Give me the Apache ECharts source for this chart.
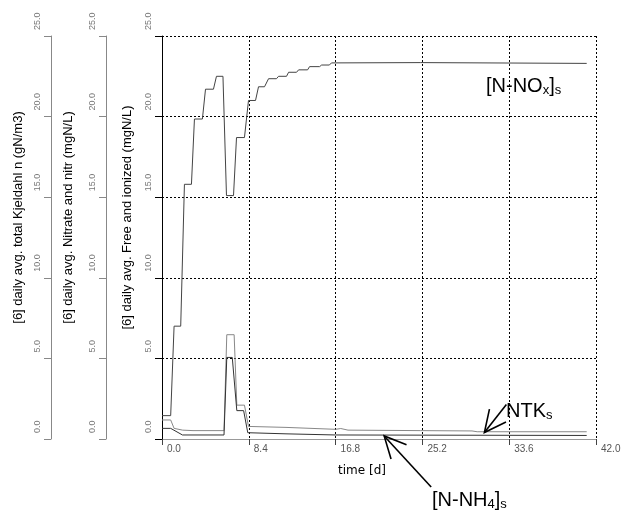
<!DOCTYPE html>
<html>
<head>
<meta charset="utf-8">
<script src="https://cdn.jsdelivr.net/npm/echarts@6/dist/echarts.min.js"></script>
<style>
html,body{margin:0;padding:0;background:#fff;}
#chart{width:626px;height:511px;}
</style>
</head>
<body>
<div id="chart"></div>
<script>
// ---- data (time in days, values) ----
const noxTime = [0.0, 0.84, 1.17, 1.81, 2.17, 2.85, 3.14, 3.91, 4.21, 4.98, 5.27, 5.9, 6.24, 6.92, 7.21, 7.98, 8.37, 9.05, 9.34, 9.92, 10.31, 11.08, 11.28, 12.05, 12.25, 13.02, 13.22, 14.09, 14.28, 15.25, 15.45, 16.2, 16.4, 25.0, 41.1];
const noxValues = [1.45, 1.45, 7.0, 7.0, 15.8, 15.8, 19.85, 19.85, 21.7, 21.7, 22.5, 22.5, 15.1, 15.1, 18.7, 18.7, 21.0, 21.0, 21.85, 21.85, 22.35, 22.35, 22.5, 22.5, 22.75, 22.75, 22.9, 22.9, 23.1, 23.1, 23.2, 23.2, 23.33, 23.35, 23.3];

const ntkTime = [0.0, 0.84, 1.17, 2.0, 3.0, 6.0, 6.27, 6.98, 7.24, 7.98, 8.37, 12.0, 16.8, 17.3, 18.0, 25.0, 30.0, 30.5, 41.1];
const ntkValues = [1.18, 1.18, 0.66, 0.55, 0.52, 0.52, 6.47, 6.47, 2.1, 2.1, 0.78, 0.72, 0.6, 0.65, 0.55, 0.52, 0.5, 0.45, 0.45];

const nh4Time = [0.0, 0.84, 1.98, 6.0, 6.27, 6.8, 7.24, 7.9, 8.3, 12.0, 16.8, 41.1];
const nh4Values = [0.66, 0.66, 0.25, 0.25, 5.06, 5.06, 1.76, 1.76, 0.39, 0.32, 0.25, 0.22];

const xTicks = {min: 0, max: 42, interval: 8.4};
const yTicks = {min: 0, max: 25, interval: 5};

const yNames = [
  '[6] daily avg. Free and ionized (mgN/L)',
  '[6] daily avg. Nitrate and nitr (mgN/L)',
  '[6] daily avg. total Kjeldahl n (gN/m3)'
];
const xName = 'time [d]';

// annotation anchors (data coords of arrow tips)
const ntkArrowTip = [31.2, 0.40];
const nh4ArrowTip = [21.5, 0.19];

function pairs(t, v) { return t.map((x, i) => [x, v[i]]); }

const chart = echarts.init(document.getElementById('chart'), null, {renderer: 'canvas'});

function yAx(offset, name, lineColor, gap, grid) {
  return {
    type: 'value', position: 'left', offset: offset,
    min: yTicks.min, max: yTicks.max, interval: yTicks.interval,
    name: name, nameLocation: 'middle', nameRotate: 90, nameGap: gap,
    nameTextStyle: {fontFamily: 'Liberation Sans', fontSize: 13, color: '#000', padding: [0, 0, 0, 40]},
    axisLine: {show: true, onZero: false, lineStyle: {color: lineColor, width: 1}},
    axisTick: {show: true, length: 7, lineStyle: {color: lineColor}},
    axisLabel: {rotate: 90, align: 'left', verticalAlign: 'bottom', margin: 9, padding: [0, 0, 0, 6],
      fontSize: 9, color: '#777', fontFamily: 'Liberation Sans', formatter: v => v.toFixed(1)},
    splitLine: grid ? {show: true, showMinLine: false, lineStyle: {color: '#000', type: [2, 2], width: 1}} : {show: false}
  };
}

const option = {
  animation: false,
  backgroundColor: '#fff',
  grid: {left: 162, right: 30, top: 36, bottom: 72, containLabel: false},
  xAxis: {
    type: 'value', min: xTicks.min, max: xTicks.max, interval: xTicks.interval,
    name: xName, nameLocation: 'middle', nameGap: 26,
    nameTextStyle: {fontFamily: 'DejaVu Sans', fontSize: 12, color: '#000', padding: [0, 34, 0, 0]},
    axisLine: {show: true, onZero: false, lineStyle: {color: '#999', width: 1}},
    axisTick: {show: true, length: 6, lineStyle: {color: '#444'}},
    axisLabel: {align: 'left', margin: 5, padding: [0, 0, 0, 5], fontSize: 10, color: '#555',
      fontFamily: 'Liberation Sans', formatter: v => v.toFixed(1)},
    splitLine: {show: true, showMinLine: false, lineStyle: {color: '#000', type: [2, 2], width: 1}}
  },
  yAxis: [
    yAx(0, yNames[0], '#000', 28, true),
    yAx(56, yNames[1], '#888', 31, false),
    yAx(111, yNames[2], '#888', 26, false)
  ],
  series: [
    {name: 'NOx', type: 'line', data: pairs(noxTime, noxValues), showSymbol: false,
      lineStyle: {color: '#444', width: 1}, z: 3},
    {name: 'NTK', type: 'line', data: pairs(ntkTime, ntkValues), showSymbol: false,
      lineStyle: {color: '#888', width: 1}, z: 3},
    {name: 'NH4', type: 'line', data: pairs(nh4Time, nh4Values), showSymbol: false,
      lineStyle: {color: '#333', width: 1}, z: 4}
  ]
};
chart.setOption(option);

// ---- annotations ----
function arrow(tip, dx, dy, wingLen, wingAng) {
  const L = Math.hypot(dx, dy), ux = dx / L, uy = dy / L;
  const a = wingAng * Math.PI / 180;
  const w1 = [tip[0] + wingLen * (ux * Math.cos(a) - uy * Math.sin(a)), tip[1] + wingLen * (ux * Math.sin(a) + uy * Math.cos(a))];
  const w2 = [tip[0] + wingLen * (ux * Math.cos(-a) - uy * Math.sin(-a)), tip[1] + wingLen * (ux * Math.sin(-a) + uy * Math.cos(-a))];
  const st = {stroke: '#000', lineWidth: 1.6, fill: null};
  return [
    {type: 'polyline', shape: {points: [tip, [tip[0] + dx, tip[1] + dy]]}, style: st, z: 10},
    {type: 'polyline', shape: {points: [w1, tip, w2]}, style: st, z: 10}
  ];
}
const richStyle = {
  a: {fontSize: 20, fontFamily: 'Liberation Sans', color: '#000', verticalAlign: 'bottom', padding: [0, 0, 1, 0]},
  b: {fontSize: 13, fontFamily: 'Liberation Sans', color: '#000', verticalAlign: 'bottom'}
};
const pNtk = chart.convertToPixel({gridIndex: 0}, ntkArrowTip);
const pNh4 = chart.convertToPixel({gridIndex: 0}, nh4ArrowTip);
const graphics = [].concat(
  arrow(pNtk, 22, -28, 24, 26),
  arrow(pNh4, 47, 51, 24, 26),
  [
    {type: 'text', x: 486, y: 76, z: 10, style: {text: '{a|[N-NO}{b|x}{a|]}{b|s}', rich: richStyle}},
    {type: 'text', x: 506, y: 401, z: 10, style: {text: '{a|NTK}{b|s}', rich: richStyle}},
    {type: 'text', x: 432, y: 490, z: 10, style: {text: '{a|[N-NH}{b|4}{a|]}{b|s}', rich: richStyle}}
  ]
);
chart.setOption({graphic: graphics});
</script>
</body>
</html>
